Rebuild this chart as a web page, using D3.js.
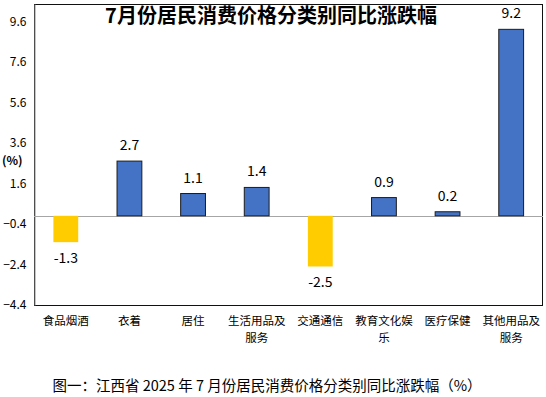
<!DOCTYPE html>
<html>
<head>
<meta charset="utf-8">
<script src="https://cdn.jsdelivr.net/npm/d3@7"></script>
<style>
  body { margin: 0; background: #fff; }
  svg text { font-family: "Noto Sans CJK SC", "Noto Sans", sans-serif; fill: #000; }
</style>
</head>
<body>
<div id="chart"></div>
<script>
const categories = ['食品烟酒', '衣着', '居住', '生活用品及\n服务', '交通通信', '教育文化娱\n乐', '医疗保健', '其他用品及\n服务'];
const values = [-1.3, 2.7, 1.1, 1.4, -2.5, 0.9, 0.2, 9.2];
const yTicks = [-4.4, -2.4, -0.4, 1.6, 3.6, 5.6, 7.6, 9.6];
const title = '7月份居民消费价格分类别同比涨跌幅';
const caption = '图一：江西省 2025 年 7 月份居民消费价格分类别同比涨跌幅（%）';

const w = 546, h = 397;
const padL = 34, padR = 543, padT = 4, padB = 305;

const svg = d3.select('#chart').append('svg')
  .attr('width', w)
  .attr('height', h);

const xScale = d3.scaleBand()
  .domain(d3.range(categories.length))
  .range([padL, padR])
  .paddingInner(0.61)
  .paddingOuter(0.305);

const yScale = d3.scaleLinear()
  .domain([-4.4, 10.45])
  .range([padB, padT]);

// frame
svg.append('rect')
  .attr('x', padL + 0.5)
  .attr('y', padT + 0.5)
  .attr('width', padR - padL - 1)
  .attr('height', padB - padT)
  .attr('fill', 'none')
  .attr('stroke', '#111')
  .attr('stroke-width', 1);

// left axis
const yAxis = d3.axisLeft(yScale)
  .tickValues(yTicks)
  .tickSize(0)
  .tickPadding(8)
  .tickFormat(d3.format('.1f'));

const gy = svg.append('g')
  .attr('transform', `translate(${padL + 0.5},0)`)
  .call(yAxis);
gy.select('.domain').attr('stroke', '#8c8c8c');
gy.selectAll('.tick text')
  .attr('font-size', 12)
  .attr('font-family', '"Noto Sans CJK SC", sans-serif')
  .attr('fill', '#000');

svg.append('text')
  .attr('x', 2)
  .attr('y', 165)
  .attr('font-size', 12)
  .attr('font-weight', 'bold')
  .text('(%)');

// zero line
svg.append('line')
  .attr('x1', padL)
  .attr('x2', padR)
  .attr('y1', Math.round(yScale(0)) + 0.5)
  .attr('y2', Math.round(yScale(0)) + 0.5)
  .attr('stroke', '#a6a6a6')
  .attr('stroke-width', 1);

// bars
svg.selectAll('rect.bar')
  .data(values)
  .enter()
  .append('rect')
  .attr('class', 'bar')
  .attr('x', (d, i) => xScale(i))
  .attr('y', d => yScale(Math.max(0, d)))
  .attr('width', xScale.bandwidth())
  .attr('height', d => Math.abs(yScale(d) - yScale(0)))
  .attr('fill', d => d < 0 ? '#ffcc00' : '#4472c4')
  .attr('stroke', d => d < 0 ? 'none' : '#1c1c1c')
  .attr('stroke-width', 1);

// value labels
svg.selectAll('text.val')
  .data(values)
  .enter()
  .append('text')
  .attr('class', 'val')
  .attr('x', (d, i) => xScale(i) + xScale.bandwidth() / 2)
  .attr('y', d => d < 0 ? yScale(d) + 21 : yScale(d) - 11)
  .attr('text-anchor', 'middle')
  .attr('font-size', 14)
  .text(d => d.toFixed(1));

// category labels, one text per line
categories.forEach((c, i) => {
  c.split('\n').forEach((s, j) => {
    svg.append('text')
      .attr('class', 'cat')
      .attr('x', xScale(i) + xScale.bandwidth() / 2)
      .attr('y', 325 + j * 17)
      .attr('text-anchor', 'middle')
      .attr('font-size', 11.5)
      .text(s);
  });
});

// title
svg.append('text')
  .attr('x', 271)
  .attr('y', 23)
  .attr('text-anchor', 'middle')
  .attr('font-size', 20)
  .attr('font-weight', 'bold')
  .text(title);

// caption
svg.append('text')
  .attr('x', 267)
  .attr('y', 391)
  .attr('text-anchor', 'middle')
  .attr('font-size', 14.5)
  .text(caption);
</script>
</body>
</html>
